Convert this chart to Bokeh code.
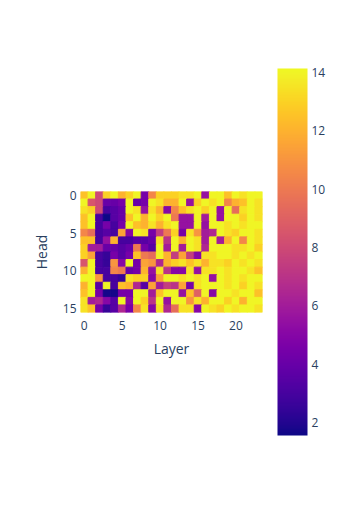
from bokeh.plotting import figure
from bokeh.models import (ColumnDataSource, LinearColorMapper, ColorBar, FixedTicker,
                          Range1d)
from bokeh.palettes import Plasma256
from bokeh.embed import file_html
from bokeh.resources import INLINE

layers = list(range(24))
heads = list(range(16))
x_ticks = [0, 5, 10, 15, 20]
y_ticks = [0, 5, 10, 15]
cbar_ticks = [2, 4, 6, 8, 10, 12, 14]

head_0 = [12.5, 14, 8, 13, 14, 12, 13, 14, 4.5, 10.5, 13, 13, 13, 13.5, 13.5, 14, 5.5, 14, 14, 12.5, 14, 13.5, 14, 14]
head_1 = [14, 8.5, 8, 4, 4, 4.5, 14, 4, 4.5, 14, 13.5, 12, 12, 14, 5.5, 13, 14, 13.5, 14, 10.5, 12, 12.5, 14, 13.5]
head_2 = [13.5, 13, 8, 3, 3.5, 4, 14, 13.5, 5.5, 13.5, 12, 5, 10.5, 12.5, 13.5, 14, 13, 14, 5.5, 14, 9.5, 13.5, 14, 13.5]
head_3 = [12.5, 14, 3, 1.55, 3.5, 4, 12.5, 14, 12, 14, 13, 14, 10, 5.5, 5.5, 14, 6, 14, 5.5, 14, 14, 13, 14, 13.5]
head_4 = [12.5, 14.14, 3, 4.5, 3, 4.5, 14, 12.5, 12, 13.5, 12, 13.5, 14, 5.5, 5.5, 14, 5.5, 14, 14, 13.5, 14, 13.5, 14, 14]
head_5 = [10.5, 9.5, 3, 3.5, 3, 11.5, 5, 14, 13.5, 4.5, 7.5, 10, 13, 4.5, 13.5, 11, 6, 6.5, 14, 13.5, 13, 14, 14, 13.5]
head_6 = [12.5, 12.5, 3, 5.5, 12, 3, 3, 3.5, 3.5, 4, 13.5, 7, 14, 12, 14, 13.5, 6, 14, 6, 12, 14, 10.5, 14, 13.5]
head_7 = [13, 6, 6, 4, 4, 3.5, 4, 10, 4.5, 3.5, 14, 6, 14, 6, 14, 13.5, 6.5, 14, 14, 14, 13.5, 13.5, 14, 13]
head_8 = [13, 11.5, 3, 2.5, 4.5, 3.5, 4.5, 12.5, 10, 9.5, 14, 12, 7.5, 11.5, 7.5, 5, 13.5, 13.5, 14, 14, 13.5, 14, 13.5, 14]
head_9 = [8.5, 14, 3, 2.5, 11, 5, 14, 4.5, 11.5, 11, 6.5, 12, 13, 13.5, 12.5, 13.5, 12, 13.5, 13.5, 13, 14, 13.5, 14, 13.5]
head_10 = [12, 14, 3, 3, 10.5, 10, 4, 4.5, 12, 5.5, 13.5, 7, 5, 5, 13.5, 5.5, 13.5, 13.5, 14, 13.5, 14, 14, 13.5, 12.5]
head_11 = [14, 14, 11, 3, 3, 2.5, 13.5, 13, 13, 5, 11.5, 14, 14, 13.5, 14, 13.5, 14, 5.5, 14, 13.5, 14, 13.5, 14, 14]
head_12 = [12, 14, 3.5, 14, 3, 12.5, 12, 6.5, 3.5, 11.5, 6, 7.5, 7, 11.5, 4.5, 13.5, 14, 14, 14, 13.5, 14, 13, 14, 13.5]
head_13 = [12.5, 14, 4.5, 1.7, 1.7, 4.5, 4.5, 14, 14, 6, 12.5, 14, 14, 5.5, 12.5, 9, 14, 5, 14, 14, 13.5, 14, 14, 12.5]
head_14 = [13.5, 6, 6.5, 5, 3.5, 14, 5, 14, 13, 7, 14, 5.5, 14, 14, 11, 13.5, 12, 14, 14, 13, 14, 12, 14, 14]
head_15 = [13.5, 12.5, 4.5, 2.5, 3.5, 6.5, 4.5, 10.5, 13.5, 5, 13.5, 6.5, 9.5, 13.5, 13.5, 5, 14, 13.5, 13, 14, 13.5, 14, 14, 13.5]

rows = [head_0, head_1, head_2, head_3, head_4, head_5, head_6, head_7,
        head_8, head_9, head_10, head_11, head_12, head_13, head_14, head_15]

xs, ys, vs = [], [], []
for h, row in zip(heads, rows):
    for l, v in zip(layers, row):
        xs.append(l)
        ys.append(h)
        vs.append(v)

vmin = min(vs)
vmax = max(vs)
mapper = LinearColorMapper(palette=Plasma256, low=vmin, high=vmax)
src = ColumnDataSource(dict(x=xs, y=ys, v=vs))

TXT = "#2a3f5f"
FONT = "Open Sans"

p = figure(width=343, height=525, output_backend="svg", toolbar_location=None,
           x_range=Range1d(-0.5, 23.5), y_range=Range1d(15.5, -0.5),
           min_border_left=80, min_border_right=81, min_border_top=191,
           min_border_bottom=213)
p.outline_line_color = None
p.background_fill_color = "white"
p.border_fill_color = "white"
p.grid.visible = False

p.rect(x="x", y="y", width=1, height=1, source=src,
       fill_color={"field": "v", "transform": mapper},
       line_color={"field": "v", "transform": mapper}, line_width=1)

for ax in (p.xaxis[0], p.yaxis[0]):
    ax.axis_line_color = None
    ax.major_tick_line_color = None
    ax.minor_tick_line_color = None
    ax.major_label_text_color = TXT
    ax.major_label_text_font = FONT
    ax.major_label_text_font_size = "12px"
    ax.axis_label_text_color = TXT
    ax.axis_label_text_font = FONT
    ax.axis_label_text_font_size = "14px"
    ax.axis_label_text_font_style = "normal"

p.xaxis.ticker = FixedTicker(ticks=x_ticks)
p.yaxis.ticker = FixedTicker(ticks=y_ticks)
p.xaxis.axis_label = "Layer"
p.yaxis.axis_label = "Head"
p.xaxis.major_label_standoff = 2
p.yaxis.major_label_standoff = -2
p.xaxis.axis_label_standoff = 6
p.yaxis.axis_label_standoff = 9

cb = ColorBar(color_mapper=mapper, location=(197, -123), width=30, height=367,
              ticker=FixedTicker(ticks=cbar_ticks), padding=0,
              major_tick_line_color=None, minor_tick_line_color=None,
              bar_line_color=None, label_standoff=4,
              major_label_text_color=TXT, major_label_text_font=FONT,
              major_label_text_font_size="12px",
              background_fill_color=None, border_line_color=None)
p.add_layout(cb, "center")

open("out.html", "w").write(file_html(p, INLINE))
